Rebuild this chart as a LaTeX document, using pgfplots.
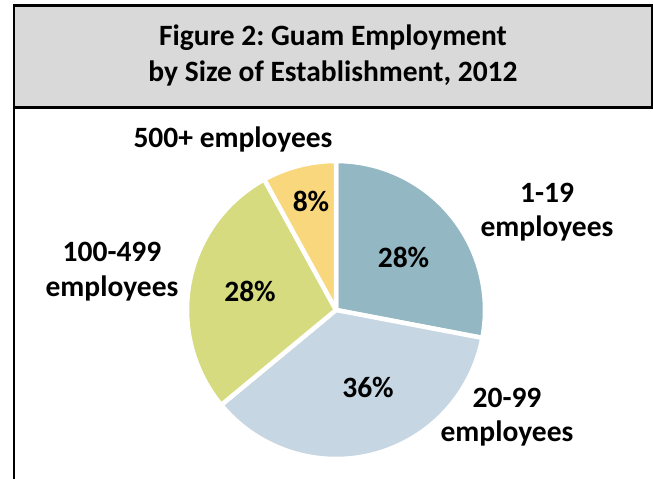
\documentclass[border=0pt]{standalone}
\usepackage{pgfplots}
\pgfplotsset{compat=1.18}
\usepackage{fontspec}
\setmainfont{Carlito}
\frenchspacing
\definecolor{cA}{HTML}{93B8C3}
\definecolor{cB}{HTML}{C6D6E2}
\definecolor{cC}{HTML}{D5DB7E}
\definecolor{cD}{HTML}{F9D77D}
\definecolor{hdr}{HTML}{D9D9D9}
\newcommand{\lbl}{\fontsize{29.5}{35}\selectfont\bfseries}
\begin{document}
\begin{tikzpicture}
\begin{axis}[
  width=653pt, height=479pt, scale only axis,
  xmin=0, xmax=653, ymin=0, ymax=479,
  hide axis, clip=false,
]
% header box
\fill[hdr] (axis cs:14,371.5) rectangle (axis cs:652,473.5);
\draw[line width=2.5pt] (axis cs:14,473.5) -- (axis cs:652,473.5) -- (axis cs:652,371.5) -- (axis cs:14,371.5);
\draw[line width=2.5pt] (axis cs:14,474.75) -- (axis cs:14,0);
\node[anchor=base, font=\lbl] at (axis cs:333,433) {Figure 2: Guam Employment};
\node[anchor=base, font=\lbl] at (axis cs:333,397) {by Size of Establishment, 2012};
% pie slices: cumulative percentages (1-19: 28, 20-99: 36, 100-499: 28, 500+: 8)
\addplot[fill=cA, draw=white, line width=4.5pt, line join=round, domain=0:28, samples=80]
  ({336+149*cos(90-3.6*x)}, {169+149*sin(90-3.6*x)}) -- (axis cs:336,169) -- cycle;
\addplot[fill=cB, draw=white, line width=4.5pt, line join=round, domain=28:64, samples=100]
  ({336+149*cos(90-3.6*x)}, {169+149*sin(90-3.6*x)}) -- (axis cs:336,169) -- cycle;
\addplot[fill=cC, draw=white, line width=4.5pt, line join=round, domain=64:92, samples=80]
  ({336+149*cos(90-3.6*x)}, {169+149*sin(90-3.6*x)}) -- (axis cs:336,169) -- cycle;
\addplot[fill=cD, draw=white, line width=4.5pt, line join=round, domain=92:100, samples=30]
  ({336+149*cos(90-3.6*x)}, {169+149*sin(90-3.6*x)}) -- (axis cs:336,169) -- cycle;
% percentages
\node[anchor=base, font=\lbl] at (axis cs:403.5,211) {28\%};
\node[anchor=base, font=\lbl] at (axis cs:311,267) {8\%};
\node[anchor=base, font=\lbl] at (axis cs:250,177) {28\%};
\node[anchor=base, font=\lbl] at (axis cs:368,81) {36\%};
% category labels
\node[anchor=base, font=\lbl] at (axis cs:233,331) {500+ employees};
\node[anchor=base, font=\lbl] at (axis cs:547,276) {1-19};
\node[anchor=base, font=\lbl] at (axis cs:547,242) {employees};
\node[anchor=base, font=\lbl] at (axis cs:112,217) {100-499};
\node[anchor=base, font=\lbl] at (axis cs:112,182) {employees};
\node[anchor=base, font=\lbl] at (axis cs:507,71) {20-99};
\node[anchor=base, font=\lbl] at (axis cs:507,37) {employees};
\end{axis}
\pgfresetboundingbox
\useasboundingbox (0,0) rectangle (653pt,479pt);
\end{tikzpicture}
\end{document}
